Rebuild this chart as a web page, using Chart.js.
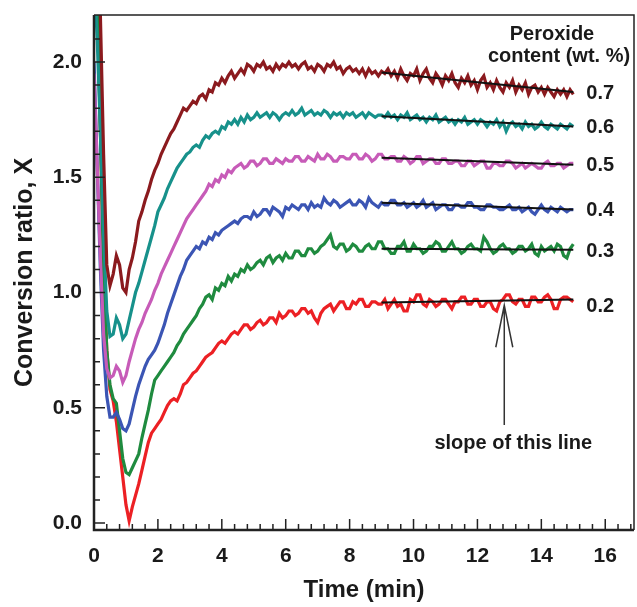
<!DOCTYPE html>
<html>
<head>
<meta charset="utf-8">
<script src="https://cdn.jsdelivr.net/npm/chart.js@4.4.1/dist/chart.umd.min.js"></script>
<style>
    html, body { margin: 0; padding: 0; background: #fff; }
    #wrap { width: 637px; height: 607px; position: relative; }
</style>
</head>
<body>
<div id="wrap"><canvas id="chart"></canvas></div>
<script>
// time axis (min), one reading every 0.1 min
const timeMin = [
    0.0, 0.1, 0.2, 0.3, 0.4, 0.5, 0.6, 0.7, 0.8, 0.9,
    1.0, 1.1, 1.2, 1.3, 1.4, 1.5, 1.6, 1.7, 1.8, 1.9,
    2.0, 2.1, 2.2, 2.3, 2.4, 2.5, 2.6, 2.7, 2.8, 2.9,
    3.0, 3.1, 3.2, 3.3, 3.4, 3.5, 3.6, 3.7, 3.8, 3.9,
    4.0, 4.1, 4.2, 4.3, 4.4, 4.5, 4.6, 4.7, 4.8, 4.9,
    5.0, 5.1, 5.2, 5.3, 5.4, 5.5, 5.6, 5.7, 5.8, 5.9,
    6.0, 6.1, 6.2, 6.3, 6.4, 6.5, 6.6, 6.7, 6.8, 6.9,
    7.0, 7.1, 7.2, 7.3, 7.4, 7.5, 7.6, 7.7, 7.8, 7.9,
    8.0, 8.1, 8.2, 8.3, 8.4, 8.5, 8.6, 8.7, 8.8, 8.9,
    9.0, 9.1, 9.2, 9.3, 9.4, 9.5, 9.6, 9.7, 9.8, 9.9,
    10.0, 10.1, 10.2, 10.3, 10.4, 10.5, 10.6, 10.7, 10.8, 10.9,
    11.0, 11.1, 11.2, 11.3, 11.4, 11.5, 11.6, 11.7, 11.8, 11.9,
    12.0, 12.1, 12.2, 12.3, 12.4, 12.5, 12.6, 12.7, 12.8, 12.9,
    13.0, 13.1, 13.2, 13.3, 13.4, 13.5, 13.6, 13.7, 13.8, 13.9,
    14.0, 14.1, 14.2, 14.3, 14.4, 14.5, 14.6, 14.7, 14.8, 14.9,
    15.0
];

// conversion ratio X for each peroxide content (wt. %)
const x07 = [
    2.6, 2.5, 2.2, 1.6, 1.12, 1.03, 1.08, 1.16, 1.12, 1.02,
    1.00, 1.10, 1.15, 1.22, 1.31, 1.35, 1.40, 1.44, 1.49, 1.53,
    1.56, 1.60, 1.63, 1.66, 1.69, 1.71, 1.74, 1.77, 1.80, 1.79,
    1.81, 1.83, 1.82, 1.85, 1.86, 1.84, 1.88, 1.87, 1.91, 1.90,
    1.93, 1.91, 1.94, 1.96, 1.93, 1.95, 1.97, 1.95, 1.99, 1.98,
    1.96, 1.99, 1.98, 2.00, 1.97, 1.98, 1.96, 1.99, 1.97, 1.99,
    1.98, 2.00, 1.98, 1.99, 1.97, 1.99, 2.00, 1.97, 1.98, 1.96,
    1.99, 1.98, 1.96, 1.99, 1.98, 2.00, 1.97, 1.98, 1.95, 1.97,
    1.98, 1.96, 1.97, 1.95, 1.97, 1.94, 1.97, 1.95, 1.96, 1.94,
    1.96, 1.95, 1.97, 1.94, 1.96, 1.93, 1.97, 1.94, 1.92, 1.95,
    1.94, 1.97, 1.92, 1.95, 1.97, 1.93, 1.91, 1.95, 1.93, 1.90,
    1.94, 1.92, 1.95, 1.91, 1.89, 1.93, 1.91, 1.94, 1.90, 1.92,
    1.88, 1.92, 1.94, 1.89, 1.91, 1.88, 1.92, 1.89, 1.87, 1.91,
    1.89, 1.92, 1.87, 1.90, 1.88, 1.91, 1.86, 1.89, 1.90, 1.87,
    1.89, 1.86, 1.89, 1.87, 1.85, 1.88, 1.86, 1.88, 1.85, 1.88,
    1.86
];
const x06 = [
    2.4, 2.1, 1.7, 1.25, 0.92, 0.81, 0.82, 0.89, 0.86, 0.80,
    0.82, 0.88, 0.94, 1.00, 1.04, 1.09, 1.14, 1.19, 1.24, 1.29,
    1.35, 1.38, 1.41, 1.45, 1.48, 1.51, 1.54, 1.56, 1.58, 1.60,
    1.61, 1.63, 1.64, 1.63, 1.66, 1.68, 1.67, 1.69, 1.70, 1.69,
    1.72, 1.71, 1.74, 1.73, 1.75, 1.73, 1.76, 1.74, 1.77, 1.75,
    1.76, 1.78, 1.76, 1.77, 1.78, 1.76, 1.78, 1.77, 1.75, 1.77,
    1.78, 1.77, 1.79, 1.77, 1.78, 1.80, 1.77, 1.78, 1.79, 1.77,
    1.78, 1.77, 1.79, 1.78, 1.76, 1.78, 1.77, 1.78, 1.76, 1.78,
    1.77, 1.78, 1.76, 1.77, 1.78, 1.76, 1.78, 1.77, 1.76, 1.77,
    1.77, 1.76, 1.78, 1.76, 1.77, 1.75, 1.77, 1.76, 1.78, 1.75,
    1.76, 1.77, 1.75, 1.76, 1.74, 1.76, 1.75, 1.77, 1.74, 1.75,
    1.76, 1.74, 1.75, 1.73, 1.75, 1.74, 1.76, 1.73, 1.74, 1.75,
    1.73, 1.75, 1.74, 1.72, 1.74, 1.73, 1.75, 1.72, 1.74, 1.70,
    1.73, 1.74, 1.72, 1.73, 1.71, 1.74, 1.72, 1.73, 1.71, 1.72,
    1.74, 1.72, 1.71, 1.73, 1.72, 1.71, 1.73, 1.72, 1.71, 1.73,
    1.72
];
const x05 = [
    1.95, 1.55, 1.15, 0.82, 0.67, 0.63, 0.64, 0.68, 0.66, 0.61,
    0.64, 0.70, 0.75, 0.80, 0.84, 0.87, 0.91, 0.94, 0.97, 1.01,
    1.04, 1.08, 1.11, 1.14, 1.17, 1.20, 1.23, 1.26, 1.29, 1.32,
    1.34, 1.36, 1.38, 1.40, 1.42, 1.44, 1.47, 1.46, 1.49, 1.48,
    1.51, 1.50, 1.53, 1.52, 1.54, 1.55, 1.56, 1.54, 1.55, 1.57,
    1.57, 1.55, 1.56, 1.58, 1.58, 1.56, 1.56, 1.58, 1.57, 1.56,
    1.58, 1.57, 1.57, 1.59, 1.59, 1.57, 1.57, 1.59, 1.58, 1.57,
    1.60, 1.58, 1.58, 1.60, 1.59, 1.57, 1.57, 1.59, 1.59, 1.58,
    1.58, 1.60, 1.60, 1.58, 1.58, 1.60, 1.59, 1.57, 1.58, 1.60,
    1.60, 1.58, 1.58, 1.59, 1.59, 1.57, 1.57, 1.59, 1.58, 1.56,
    1.57, 1.59, 1.59, 1.56, 1.57, 1.58, 1.58, 1.56, 1.56, 1.58,
    1.58, 1.56, 1.56, 1.57, 1.57, 1.55, 1.55, 1.57, 1.57, 1.55,
    1.56, 1.57, 1.57, 1.54, 1.54, 1.56, 1.56, 1.55, 1.55, 1.57,
    1.57, 1.56, 1.54, 1.55, 1.56, 1.54, 1.55, 1.56, 1.55, 1.54,
    1.54, 1.56, 1.57, 1.55, 1.55, 1.56, 1.56, 1.54, 1.55, 1.56,
    1.56
];
const x04 = [
    2.0, 1.55, 1.1, 0.75, 0.55, 0.46, 0.46, 0.48, 0.45, 0.41,
    0.40, 0.43, 0.49, 0.55, 0.60, 0.64, 0.68, 0.71, 0.73, 0.75,
    0.78, 0.82, 0.86, 0.91, 0.95, 0.99, 1.03, 1.07, 1.10, 1.14,
    1.16, 1.18, 1.20, 1.19, 1.22, 1.21, 1.24, 1.23, 1.26, 1.25,
    1.27, 1.28, 1.29, 1.30, 1.31, 1.30, 1.32, 1.33, 1.33, 1.32,
    1.35, 1.33, 1.34, 1.36, 1.36, 1.34, 1.37, 1.36, 1.35, 1.33,
    1.37, 1.36, 1.38, 1.37, 1.36, 1.38, 1.38, 1.36, 1.39, 1.37,
    1.38, 1.37, 1.41, 1.39, 1.38, 1.40, 1.39, 1.37, 1.38, 1.39,
    1.40, 1.38, 1.38, 1.40, 1.39, 1.37, 1.41, 1.39, 1.38, 1.37,
    1.39, 1.38, 1.38, 1.40, 1.40, 1.38, 1.38, 1.39, 1.37, 1.38,
    1.39, 1.37, 1.38, 1.40, 1.37, 1.38, 1.39, 1.36, 1.37, 1.38,
    1.38, 1.36, 1.36, 1.38, 1.38, 1.37, 1.37, 1.39, 1.39, 1.37,
    1.37, 1.36, 1.36, 1.38, 1.38, 1.37, 1.37, 1.36, 1.36, 1.37,
    1.38, 1.36, 1.36, 1.37, 1.35, 1.36, 1.37, 1.35, 1.34, 1.36,
    1.38, 1.36, 1.35, 1.37, 1.36, 1.35, 1.37, 1.36, 1.35, 1.36,
    1.36
];
const x03 = [
    2.6, 2.3, 1.7, 1.1, 0.75, 0.60, 0.54, 0.52, 0.40, 0.28,
    0.22, 0.21, 0.24, 0.27, 0.30, 0.37, 0.43, 0.49, 0.56, 0.62,
    0.64, 0.66, 0.68, 0.70, 0.72, 0.74, 0.77, 0.79, 0.82, 0.84,
    0.86, 0.88, 0.90, 0.93, 0.95, 0.98, 0.99, 0.97, 1.02, 1.01,
    1.04, 1.03, 1.07, 1.05, 1.08, 1.07, 1.10, 1.09, 1.12, 1.10,
    1.11, 1.13, 1.14, 1.12, 1.15, 1.16, 1.13, 1.15, 1.16, 1.14,
    1.17, 1.15, 1.15, 1.18, 1.18, 1.16, 1.16, 1.19, 1.19, 1.17,
    1.18, 1.20, 1.21, 1.23, 1.25, 1.20, 1.19, 1.21, 1.21, 1.18,
    1.19, 1.21, 1.20, 1.18, 1.18, 1.20, 1.21, 1.19, 1.19, 1.22,
    1.22, 1.19, 1.19, 1.17, 1.17, 1.20, 1.20, 1.22, 1.18, 1.18,
    1.21, 1.19, 1.19, 1.17, 1.18, 1.20, 1.20, 1.22, 1.21, 1.18,
    1.18, 1.20, 1.22, 1.19, 1.19, 1.17, 1.18, 1.20, 1.21, 1.19,
    1.19, 1.18, 1.24, 1.22, 1.19, 1.17, 1.18, 1.20, 1.21, 1.19,
    1.19, 1.17, 1.18, 1.20, 1.20, 1.18, 1.19, 1.21, 1.17, 1.16,
    1.20, 1.18, 1.19, 1.20, 1.18, 1.21, 1.20, 1.16, 1.15, 1.19,
    1.21
];
const x02 = [
    2.6, 2.3, 1.7, 1.1, 0.75, 0.58, 0.53, 0.44, 0.32, 0.20,
    0.08, 0.01, 0.07, 0.12, 0.17, 0.23, 0.29, 0.35, 0.39, 0.41,
    0.43, 0.45, 0.48, 0.51, 0.53, 0.54, 0.53, 0.56, 0.60, 0.61,
    0.63, 0.65, 0.66, 0.68, 0.70, 0.72, 0.73, 0.74, 0.76, 0.78,
    0.79, 0.78, 0.80, 0.82, 0.83, 0.82, 0.84, 0.86, 0.86, 0.84,
    0.85, 0.87, 0.88, 0.86, 0.87, 0.89, 0.89, 0.87, 0.91, 0.89,
    0.90, 0.92, 0.92, 0.90, 0.91, 0.93, 0.93, 0.91, 0.92, 0.89,
    0.87, 0.91, 0.93, 0.94, 0.95, 0.92, 0.94, 0.96, 0.96, 0.93,
    0.93, 0.96, 0.95, 0.97, 0.97, 0.94, 0.94, 0.96, 0.96, 0.95,
    0.95, 0.97, 0.93, 0.95, 0.97, 0.94, 0.95, 0.92, 0.92, 0.97,
    0.96, 0.99, 0.99, 0.95, 0.94, 0.97, 0.96, 0.94, 0.95, 0.97,
    0.97, 0.95, 0.93, 0.96, 0.96, 0.98, 0.98, 0.95, 0.95, 0.97,
    0.97, 0.94, 0.94, 0.96, 0.96, 0.93, 0.92, 0.96, 0.97, 0.99,
    0.99, 0.96, 0.95, 0.97, 0.97, 0.94, 0.94, 0.98, 0.98, 0.96,
    0.96, 0.98, 0.99, 0.97, 0.93, 0.93, 0.97, 0.98, 0.98, 0.97,
    0.96
];

const seriesLabels = ['0.7', '0.6', '0.5', '0.4', '0.3', '0.2'];
const seriesValues = [x07, x06, x05, x04, x03, x02];
const seriesColors = ['#8b1a1e', '#17918b', '#c75bb8', '#3b55b4', '#1f8b3f', '#ec2024'];

// linear fits over the plateau (9 -> 15 min)
const fitFrom = 9;
const fitTo = 15;
const fitStartY = [1.955, 1.765, 1.585, 1.39, 1.19, 0.957];
const fitEndY = [1.87, 1.72, 1.554, 1.36, 1.186, 0.97];

const xTickValues = [0, 2, 4, 6, 8, 10, 12, 14, 16];
const yTickValues = [0, 0.5, 1.0, 1.5, 2.0];

const FONT = '"Liberation Sans", Arial, Helvetica, sans-serif';
const INK = '#1a1a1a';

// frame, inward ticks and the text notes
const frameAndNotes = {
    id: 'frameAndNotes',
    afterDraw(chart) {
        const { ctx, chartArea: a, scales: { x, y } } = chart;
        ctx.save();
        ctx.strokeStyle = '#222';

        ctx.lineWidth = 1.5;
        ctx.beginPath();
        ctx.moveTo(a.left, a.top);
        ctx.lineTo(a.right, a.top);
        ctx.lineTo(a.right, a.bottom);
        ctx.stroke();

        ctx.lineWidth = 2.5;
        ctx.beginPath();
        ctx.moveTo(a.left, a.top);
        ctx.lineTo(a.left, a.bottom);
        ctx.lineTo(a.right, a.bottom);
        ctx.stroke();

        ctx.lineWidth = 1.5;
        ctx.beginPath();
        for (let i = 0; i <= 42; i++) {
            const px = x.getPixelForValue(i * 0.4);
            if (px > a.right - 1) break;
            const len = i % 5 === 0 ? 11 : 6;
            ctx.moveTo(px, a.bottom);
            ctx.lineTo(px, a.bottom - len);
        }
        for (let i = 0; i <= 22; i++) {
            const py = y.getPixelForValue(i * 0.1);
            if (py < a.top + 1) break;
            const len = i % 5 === 0 ? 11 : 6;
            ctx.moveTo(a.left, py);
            ctx.lineTo(a.left + len, py);
        }
        ctx.stroke();

        ctx.fillStyle = INK;
        ctx.font = `bold 20px ${FONT}`;
        ctx.textAlign = 'center';
        ctx.textBaseline = 'middle';
        ctx.fillText('Peroxide', a.right - 82, 34);
        ctx.fillText('content (wt. %)', a.right - 75, 56);

        // series labels at the end of each fit line
        ctx.textAlign = 'left';
        seriesLabels.forEach((label, i) => {
            const px = x.getPixelForValue(fitTo) + 13;
            const dy = i === 5 ? 7 : (i === 4 ? 2 : 1);
            ctx.fillText(label, px, y.getPixelForValue(fitEndY[i]) + dy);
        });

        // arrow to the 0.2 fit line
        const ax = x.getPixelForValue(12.84);
        const tipY = y.getPixelForValue(0.945);
        const baseY = y.getPixelForValue(0.425);
        ctx.strokeStyle = '#333';
        ctx.lineWidth = 1.5;
        ctx.beginPath();
        ctx.moveTo(ax, baseY);
        ctx.lineTo(ax, tipY);
        ctx.moveTo(ax - 8.5, tipY + 42);
        ctx.lineTo(ax, tipY);
        ctx.lineTo(ax + 8.5, tipY + 42);
        ctx.stroke();

        ctx.textAlign = 'center';
        ctx.fillText('slope of this line', ax + 9, baseY + 18);
        ctx.restore();
    }
};

const datasets = [];
seriesLabels.forEach((label, i) => {
    datasets.push({
        label: 'fit ' + label,
        data: [{ x: fitFrom, y: fitStartY[i] }, { x: fitTo, y: fitEndY[i] }],
        borderColor: '#111',
        borderWidth: 2,
        pointRadius: 0
    });
});
seriesLabels.forEach((label, i) => {
    datasets.push({
        label: label,
        data: timeMin.map((t, k) => ({ x: t, y: seriesValues[i][k] })),
        borderColor: seriesColors[i],
        borderWidth: 3.2,
        pointRadius: 0,
        tension: 0
    });
});

new Chart(document.getElementById('chart'), {
    type: 'line',
    data: { datasets },
    options: {
        responsive: true,
        maintainAspectRatio: false,
        animation: false,
        layout: { padding: { top: 15, right: 3, left: 0, bottom: 0 } },
        plugins: {
            legend: { display: false },
            tooltip: { enabled: false }
        },
        scales: {
            x: {
                type: 'linear',
                min: 0,
                max: 16.9,
                afterBuildTicks: s => { s.ticks = xTickValues.map(v => ({ value: v })); },
                afterFit: s => { s.height = 77; s.paddingLeft = 0; s.paddingRight = 0; },
                grid: { display: false, drawTicks: false },
                border: { display: false },
                ticks: {
                    color: INK,
                    padding: 14,
                    maxRotation: 0,
                    autoSkip: false,
                    font: { family: FONT, size: 21, weight: 'bold' }
                },
                title: {
                    display: true,
                    text: 'Time (min)',
                    color: INK,
                    padding: { top: 0, bottom: 2 },
                    font: { family: FONT, size: 24, weight: 'bold' }
                }
            },
            y: {
                min: -0.03,
                max: 2.204,
                afterBuildTicks: s => { s.ticks = yTickValues.map(v => ({ value: v })); },
                afterFit: s => { s.width = 94; s.paddingTop = 0; s.paddingBottom = 0; },
                grid: { display: false, drawTicks: false },
                border: { display: false },
                ticks: {
                    color: INK,
                    padding: 12,
                    autoSkip: false,
                    callback: v => Number(v).toFixed(1),
                    font: { family: FONT, size: 21, weight: 'bold' }
                },
                title: {
                    display: true,
                    text: 'Conversion ratio, X',
                    color: INK,
                    padding: { top: 10, bottom: 0 },
                    font: { family: FONT, size: 25, weight: 'bold' }
                }
            }
        }
    },
    plugins: [frameAndNotes]
});
</script>
</body>
</html>
